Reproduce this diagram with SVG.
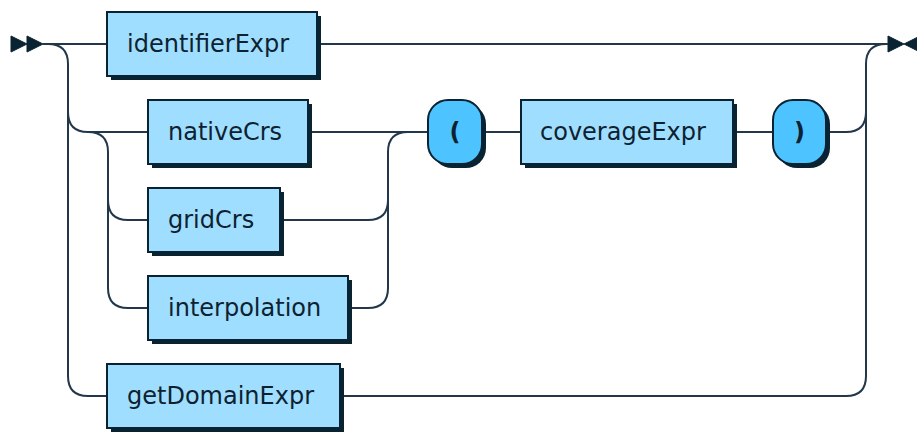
<svg xmlns="http://www.w3.org/2000/svg" width="917" height="433" viewBox="0 0 917 433">
<style>
.line{fill:none;stroke:#22374a;stroke-width:2}
.shadow{fill:#0a2332;stroke:none}
.nt{fill:#A0DEFF;stroke:#0a2332;stroke-width:2}
.t{fill:#4DC3FF;stroke:#0a2332;stroke-width:2}
.mark{fill:#0a2332;stroke:#0a2332;stroke-width:1}
text{font-family:"DejaVu Sans",Verdana,sans-serif;font-size:24px;fill:#0d2230}
text.term{font-weight:bold;text-anchor:middle}
</style>
<rect width="917" height="433" fill="#ffffff"/>
<g id="connectors">
<polygon class="mark" points="27,44 11,36 11,52"/>
<polygon class="mark" points="43,44 27,36 27,52"/>
<polygon class="mark" points="904,44 888,36 888,52"/>
<polygon class="mark" points="904,44 920,36 920,52"/>
<path class="line" d="M43 44 H107 M317 44 H888"/>
<path class="line" d="M48 44 Q68 44 68 64 V376 Q68 396 88 396 H107"/>
<path class="line" d="M68 112 Q68 132 88 132 H148"/>
<path class="line" d="M88 132 Q108 132 108 152 V288 Q108 308 128 308 H148"/>
<path class="line" d="M108 200 Q108 220 128 220 H148"/>
<path class="line" d="M308 132 H428"/>
<path class="line" d="M280 220 H368 Q388 220 388 200 V152 Q388 132 408 132"/>
<path class="line" d="M348 308 H368 Q388 308 388 288 V200"/>
<path class="line" d="M482 132 H521 M733 132 H773"/>
<path class="line" d="M826 132 H846 Q866 132 866 112 V64 Q866 44 886 44"/>
<path class="line" d="M340 396 H846 Q866 396 866 376 V112"/>
</g>
<g id="identifierExpr">
<rect class="shadow" x="111" y="16" width="210" height="64"/>
<rect class="nt" x="107" y="12" width="210" height="64"/>
<text x="127" y="52">identifierExpr</text>
</g>
<g id="nativeCrs">
<rect class="shadow" x="152" y="104" width="160" height="64"/>
<rect class="nt" x="148" y="100" width="160" height="64"/>
<text x="168" y="140">nativeCrs</text>
</g>
<g id="gridCrs">
<rect class="shadow" x="152" y="192" width="132" height="64"/>
<rect class="nt" x="148" y="188" width="132" height="64"/>
<text x="168" y="228">gridCrs</text>
</g>
<g id="interpolation">
<rect class="shadow" x="152" y="280" width="200" height="64"/>
<rect class="nt" x="148" y="276" width="200" height="64"/>
<text x="168" y="316">interpolation</text>
</g>
<g id="getDomainExpr">
<rect class="shadow" x="111" y="368" width="233" height="64"/>
<rect class="nt" x="107" y="364" width="233" height="64"/>
<text x="127" y="404">getDomainExpr</text>
</g>
<g id="lparen">
<rect class="shadow" x="432" y="104" width="54" height="64" rx="20" ry="20"/>
<rect class="t" x="428" y="100" width="54" height="64" rx="20" ry="20"/>
<text class="term" x="455" y="140">(</text>
</g>
<g id="coverageExpr">
<rect class="shadow" x="525" y="104" width="212" height="64"/>
<rect class="nt" x="521" y="100" width="212" height="64"/>
<text x="540" y="140">coverageExpr</text>
</g>
<g id="rparen">
<rect class="shadow" x="777" y="104" width="53" height="64" rx="20" ry="20"/>
<rect class="t" x="773" y="100" width="53" height="64" rx="20" ry="20"/>
<text class="term" x="799.5" y="140">)</text>
</g>
</svg>
